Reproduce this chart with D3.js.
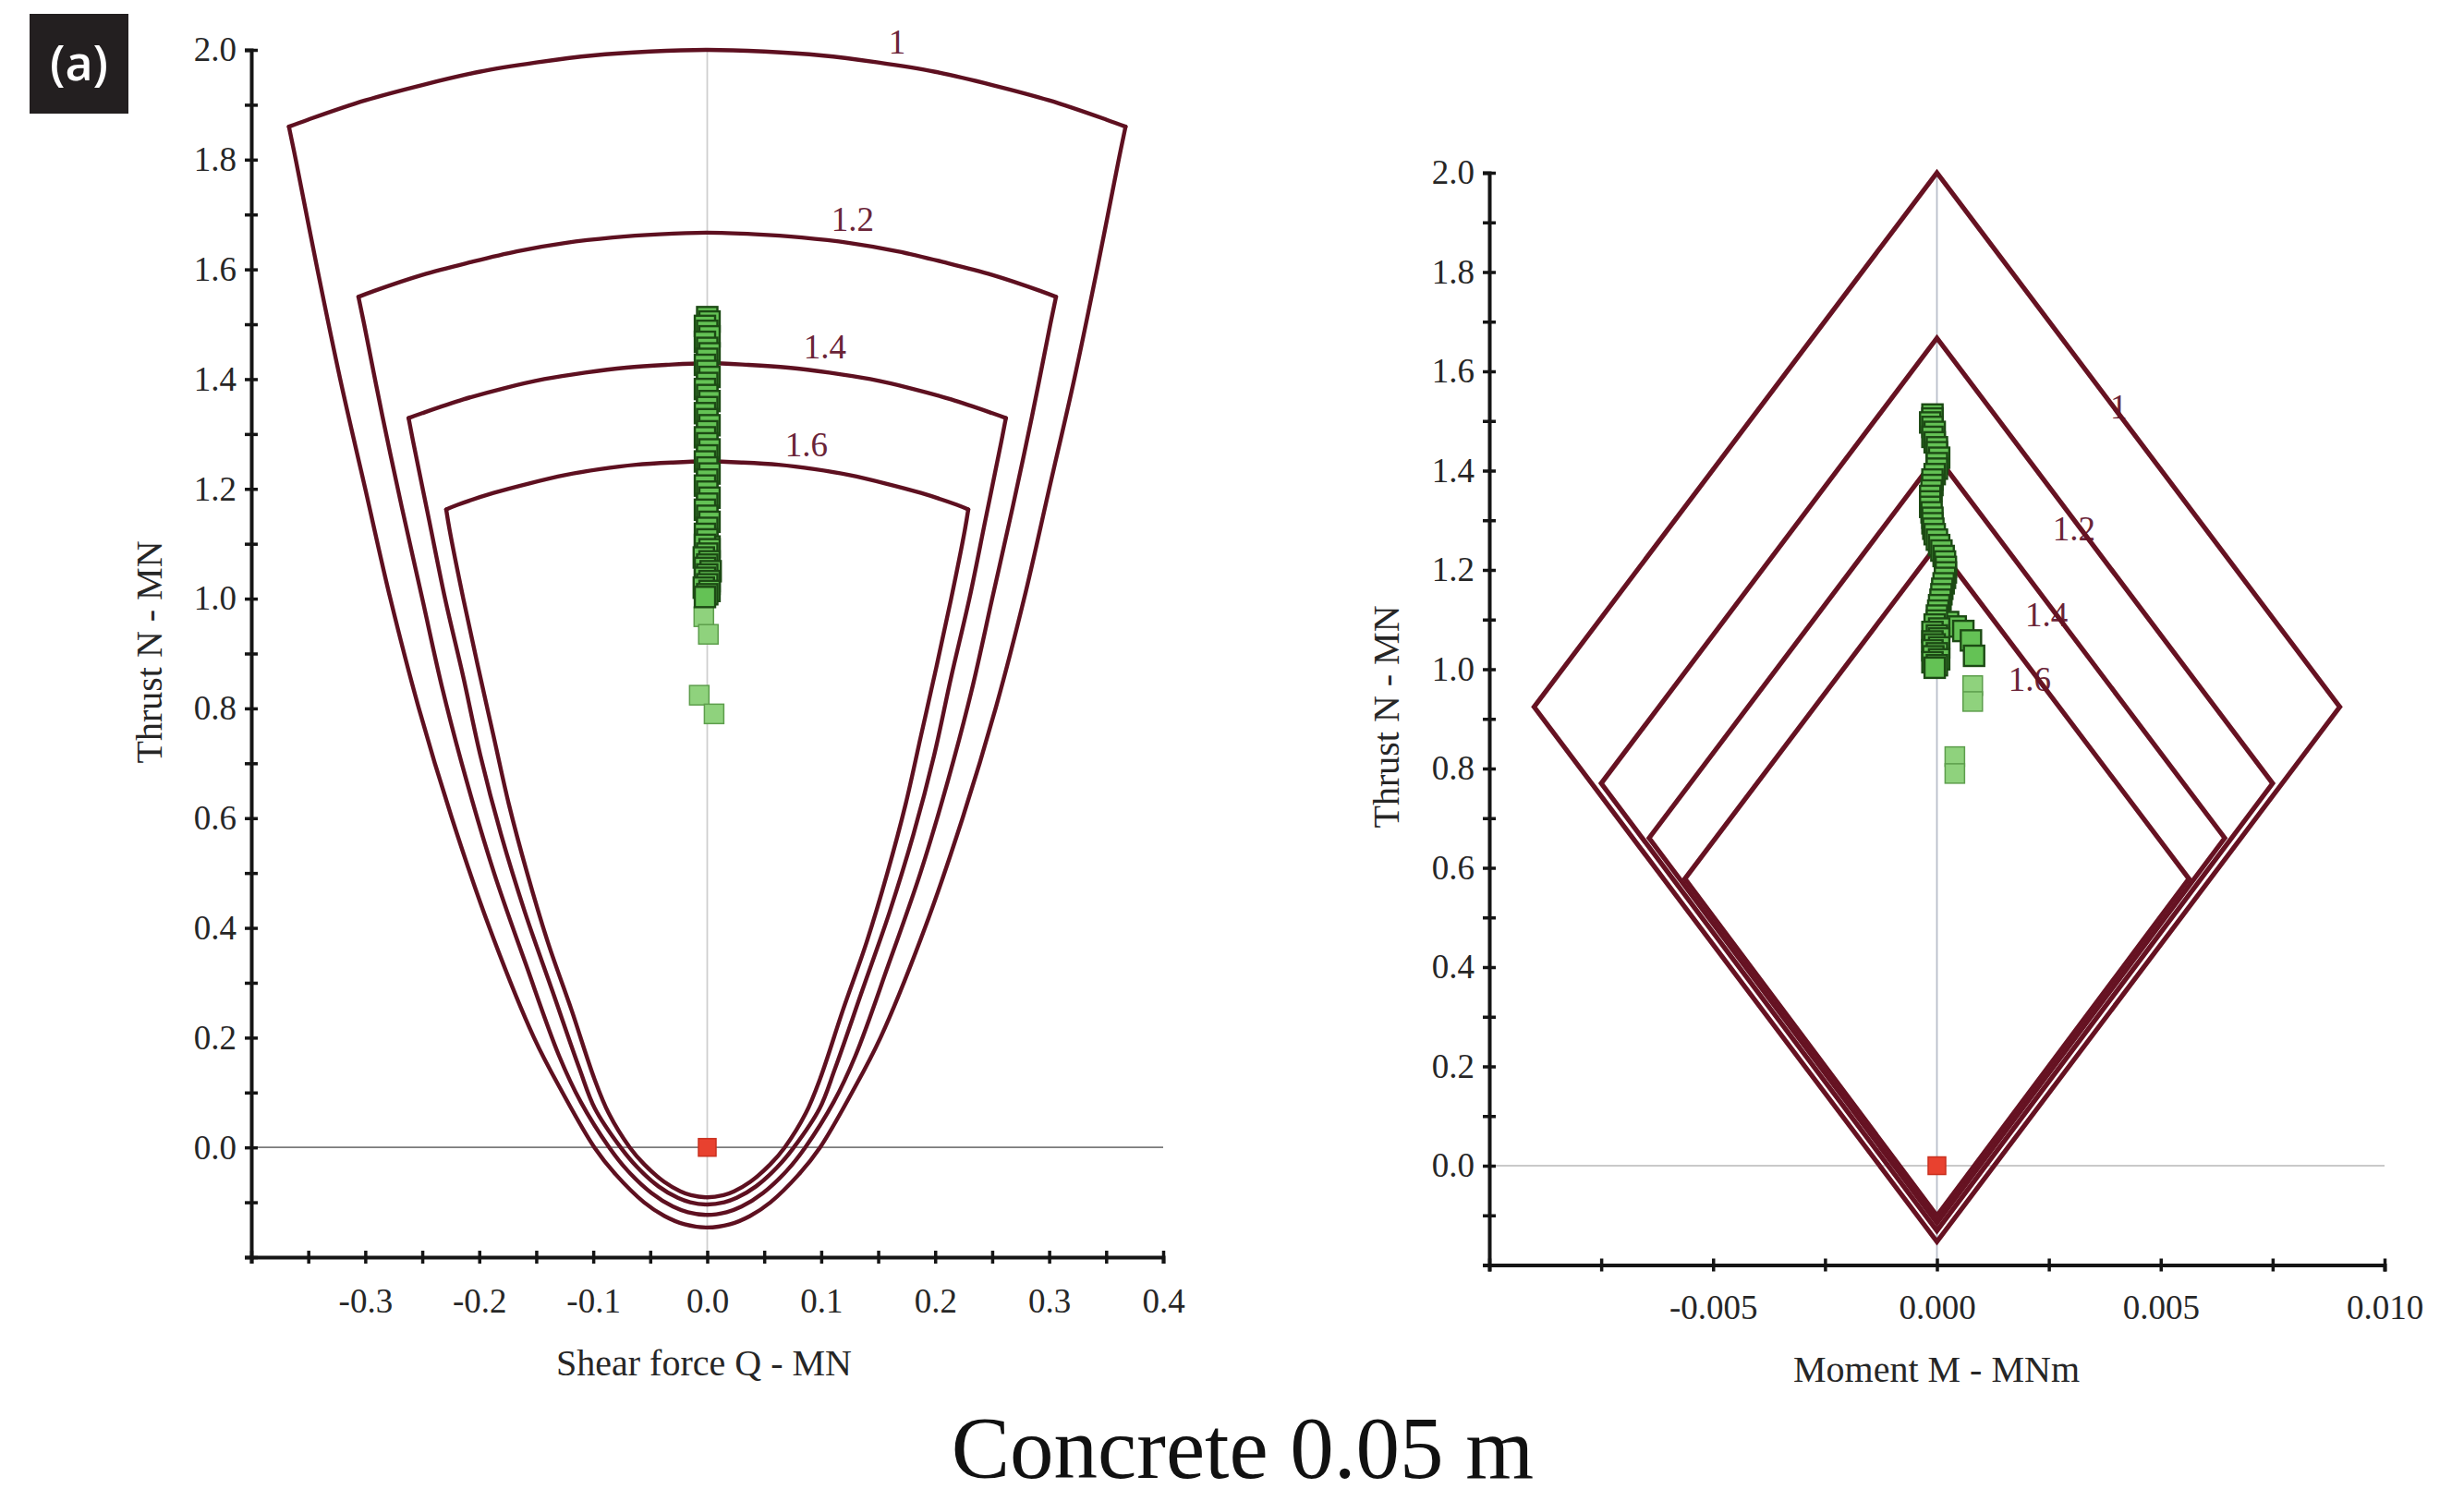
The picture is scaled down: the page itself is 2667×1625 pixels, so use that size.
<!DOCTYPE html>
<html><head><meta charset="utf-8">
<script src="https://cdn.jsdelivr.net/npm/d3@7"></script>
<style>
html,body{margin:0;padding:0;background:#fff;}
svg{display:block;}
text{font-family:"Liberation Serif","Times New Roman",serif;}
</style></head><body>
<svg id="chart" width="2667" height="1625"></svg>
<script>
// ---------------- DATA ----------------
const safetyFactors = ["1", "1.2", "1.4", "1.6"];

// N–Q capacity envelopes, right half (Q >= 0); the left half is the mirror image.
// arc: top (Q=0) → corner ; side: corner → bottom (Q=0)
const arcQN_1   = [[0,2.0],[0.05,1.997],[0.1,1.990],[0.15,1.977],[0.2,1.960],[0.25,1.936],[0.3,1.908],[0.35,1.873],[0.367,1.860]];
const sideQN_1  = [[0.367,1.860],[0.361,1.8],[0.342,1.6],[0.322,1.4],[0.300,1.2],[0.278,1.0],[0.253,0.8],[0.224,0.6],[0.191,0.4],[0.152,0.2],[0.127,0.1],[0.099,0.0],[0.080,-0.05],[0.0555,-0.1],[0.0375,-0.125],[0.020,-0.14],[0,-0.146]];
const arcQN_12  = [[0,1.667],[0.042,1.664],[0.083,1.658],[0.125,1.648],[0.167,1.633],[0.208,1.613],[0.25,1.590],[0.292,1.561],[0.306,1.550]];
const sideQN_12 = [[0.306,1.550],[0.301,1.5],[0.285,1.333],[0.268,1.167],[0.25,1.0],[0.232,0.833],[0.211,0.667],[0.187,0.5],[0.159,0.333],[0.130,0.167],[0.111,0.083],[0.086,0],[0.070,-0.042],[0.049,-0.083],[0.030,-0.108],[0.017,-0.118],[0,-0.123]];
const arcQN_14  = [[0,1.429],[0.036,1.426],[0.071,1.421],[0.107,1.412],[0.143,1.4],[0.179,1.383],[0.214,1.363],[0.25,1.338],[0.262,1.329]];
const sideQN_14 = [[0.262,1.329],[0.258,1.286],[0.244,1.143],[0.23,1.0],[0.214,0.857],[0.199,0.714],[0.181,0.571],[0.16,0.429],[0.136,0.286],[0.112,0.143],[0.0986,0.071],[0.076,0],[0.0615,-0.036],[0.0428,-0.071],[0.0258,-0.092],[0.0149,-0.1],[0,-0.104]];
const arcQN_16  = [[0,1.25],[0.031,1.248],[0.0625,1.244],[0.094,1.236],[0.125,1.225],[0.156,1.21],[0.1875,1.1925],[0.219,1.171],[0.229,1.1625]];
const sideQN_16 = [[0.229,1.1625],[0.226,1.125],[0.214,1.0],[0.201,0.875],[0.1875,0.75],[0.174,0.625],[0.158,0.5],[0.14,0.375],[0.119,0.25],[0.099,0.125],[0.0865,0.0625],[0.068,0],[0.0552,-0.031],[0.038,-0.0625],[0.0236,-0.08],[0.0143,-0.087],[0,-0.091]];
const arcsQN  = [arcQN_1, arcQN_12, arcQN_14, arcQN_16];
const sidesQN = [sideQN_1, sideQN_12, sideQN_14, sideQN_16];

// N–M capacity diamonds
const diamondTopN    = [2.0, 1.667, 1.429, 1.25];
const diamondCornerM = [0.0090, 0.0075, 0.00643, 0.00563];
const diamondCornerN = [0.924, 0.770, 0.660, 0.578];
const diamondBottomN = [-0.153, -0.131, -0.115, -0.101];

// factor-label anchors (data units)
const labelQN = [[0.1665, 2.015], [0.1276, 1.692], [0.1033, 1.460], [0.0871, 1.281]];
const labelMN = [[0.00406, 1.530], [0.00306, 1.284], [0.00245, 1.111], [0.00207, 0.981]];

// lining forces (MN, MNm)
const thrustN = [1.513,1.505,1.497,1.488,1.478,1.468,1.457,1.447,1.437,1.426,1.415,1.404,1.393,1.382,1.371,1.360,1.349,1.338,1.327,1.316,
                 1.305,1.294,1.283,1.272,1.261,1.250,1.239,1.228,1.217,1.206,1.195,1.184,1.173,1.162,1.151,1.140,1.129,1.118,1.108,
                 1.095,1.086,1.077,1.058,1.027,
                 1.098,1.090,1.082,1.075,1.068,1.062,1.056,1.050,1.044,1.038,1.032,1.026,1.020,1.014,1.008,1.003];
const shearQ  = [0.000,0.002,-0.002,0.000,0.002,-0.002,0.000,0.002,0.000,-0.002,0.000,0.002,0.000,-0.002,0.000,0.002,0.000,-0.002,0.000,0.002,
                 0.000,-0.002,0.000,0.002,0.000,-0.002,0.000,0.002,0.000,-0.002,0.000,0.002,0.000,-0.002,0.000,0.002,0.000,-0.002,0.000,
                 0.002,0.000,-0.002,0.000,0.002,
                 -0.002,0.002,0.000,-0.003,0.002,0.000,-0.002,0.003,0.000,-0.002,0.002,0.000,-0.003,0.002,0.000,-0.002];
const momentM = [-0.00010,-0.00010,-0.00015,-0.00010,-0.00005,-0.00010,-0.00005,0.00000,0.00000,0.00005,0.00000,0.00000,-0.00005,-0.00010,-0.00010,-0.00012,-0.00015,-0.00015,-0.00015,-0.00012,
                 -0.00010,-0.00010,-0.00008,-0.00005,0.00000,0.00005,0.00010,0.00015,0.00018,0.00020,0.00020,0.00018,0.00015,0.00012,0.00010,0.00008,0.00005,0.00003,0.00000,
                 0.00025,0.00042,0.00059,0.00076,0.00083,
                 0.00000,-0.00005,0.00005,-0.00010,0.00000,0.00005,-0.00010,-0.00005,0.00005,-0.00010,0.00000,-0.00008,0.00005,-0.00010,0.00000,-0.00005];
// last (lightest) points
const lateN = [0.967, 0.935, 0.824, 0.790];
const lateQ = [-0.003, 0.001, -0.007, 0.006];
const lateM = [0.0008, 0.0008, 0.0004, 0.0004];
// initial state
const originQ = [0], originM = [0], originN = [0];

// ticks
const nTicks  = [-0.2,-0.1,0.0,0.1,0.2,0.3,0.4,0.5,0.6,0.7,0.8,0.9,1.0,1.1,1.2,1.3,1.4,1.5,1.6,1.7,1.8,1.9,2.0];
const nLabels = [0.0,0.2,0.4,0.6,0.8,1.0,1.2,1.4,1.6,1.8,2.0];
const qTicks  = [-0.4,-0.35,-0.3,-0.25,-0.2,-0.15,-0.1,-0.05,0.0,0.05,0.1,0.15,0.2,0.25,0.3,0.35,0.4];
const qLabels = [-0.3,-0.2,-0.1,0.0,0.1,0.2,0.3,0.4];
const mTicks  = [-0.01,-0.0075,-0.005,-0.0025,0.0,0.0025,0.005,0.0075,0.01];
const mLabels = [-0.005,0.0,0.005,0.01];

const texts = {
  panel: "(a)",
  yTitle: "Thrust N - MN",
  xTitleL: "Shear force Q - MN",
  xTitleR: "Moment M - MNm",
  title: "Concrete 0.05 m"
};

// ---------------- DRAW ----------------
const svg = d3.select("#chart");
svg.append("rect").attr("width", 2667).attr("height", 1625).attr("fill", "#fff");

const xL = d3.scaleLinear().domain([-0.4, 0.4]).range([272, 1259]);
const yL = d3.scaleLinear().domain([-0.2, 2.0]).range([1361, 54]);
const xR = d3.scaleLinear().domain([-0.01, 0.01]).range([1612, 2581]);
const yR = d3.scaleLinear().domain([-0.2, 2.0]).range([1369.5, 187]);

const LINE = "#5e1020";
const LABEL = "#6a2438";
const AXIS = "#151515";
const SW = 4.4;
const has = (arr, d) => arr.some(v => Math.abs(v - d) < 1e-9);

function styleAxis(g) {
  g.attr("font-size", null).attr("font-family", null);
  g.selectAll(".domain").attr("stroke", AXIS).attr("stroke-width", 4);
  g.selectAll(".tick line").attr("stroke", AXIS).attr("stroke-width", 3.5);
  g.selectAll(".tick text").attr("fill", "#262626").style("font-size", "37px")
    .style("font-family", '"Liberation Serif", serif');
}
function yAxis(xs, ys, ticks, labels, fmt) {
  const x0 = xs.range()[0];
  const gA = svg.append("g").attr("transform", `translate(${x0},0)`);
  gA.call(d3.axisLeft(ys).tickValues(ticks).tickSize(7).tickPadding(9)
           .tickFormat(d => has(labels, d) ? fmt(d) : ""));
  const gB = svg.append("g").attr("transform", `translate(${x0},0)`);
  gB.call(d3.axisRight(ys).tickValues(ticks).tickSize(7).tickFormat(""));
  gB.select(".domain").remove();
  styleAxis(gA); styleAxis(gB);
}
function xAxis(xs, ys, ticks, labels, fmt, pad) {
  const y0 = ys.range()[0];
  const gA = svg.append("g").attr("transform", `translate(0,${y0})`);
  gA.call(d3.axisBottom(xs).tickValues(ticks).tickSize(7).tickPadding(pad)
           .tickFormat(d => has(labels, d) ? fmt(d) : ""));
  const gB = svg.append("g").attr("transform", `translate(0,${y0})`);
  gB.call(d3.axisTop(xs).tickValues(ticks).tickSize(7).tickFormat(""));
  gB.select(".domain").remove();
  styleAxis(gA); styleAxis(gB);
}

// reference lines
function refLines(xs, ys, hColor, vColor) {
  svg.append("line").attr("x1", xs.range()[0]).attr("x2", xs.range()[1])
    .attr("y1", ys(0)).attr("y2", ys(0)).attr("stroke", hColor).attr("stroke-width", 1.8);
  svg.append("line").attr("x1", xs(0)).attr("x2", xs(0))
    .attr("y1", ys(2.0)).attr("y2", ys.range()[0]).attr("stroke", vColor).attr("stroke-width", 1.8);
}
refLines(xL, yL, "#7a7a7a", "#cfcfcf");
refLines(xR, yR, "#c9c9c9", "#b9bfca");

// factor labels (drawn under the envelopes)
const lab = svg.append("g").attr("fill", LABEL).style("font-size", "37px");
safetyFactors.forEach((s, i) => {
  lab.append("text").attr("x", xL(labelQN[i][0])).attr("y", yL(labelQN[i][1])).attr("dy", "0.35em")
     .attr("text-anchor", "middle").text(s);
  lab.append("text").attr("x", xR(labelMN[i][0])).attr("y", yR(labelMN[i][1])).attr("dy", "0.35em")
     .attr("text-anchor", "middle").text(s);
});

// N–Q envelopes
const mirror = pts => pts.map(d => [-d[0], d[1]]);
const arcLine  = d3.line().x(d => xL(d[0])).y(d => yL(d[1])).curve(d3.curveCatmullRom);
const sideLine = d3.line().x(d => xL(d[0])).y(d => yL(d[1])).curve(d3.curveCatmullRom.alpha(0.5));
arcsQN.forEach((arc, i) => {
  const fullArc = mirror(arc).reverse().concat(arc.slice(1));
  const side = sidesQN[i];
  const fullSide = side.concat(mirror(side).reverse().slice(1));
  const g = svg.append("g").attr("fill", "none").attr("stroke", LINE).attr("stroke-width", SW)
               .attr("stroke-linecap", "round").attr("stroke-linejoin", "round");
  g.append("path").attr("d", arcLine(fullArc));
  g.append("path").attr("d", sideLine(fullSide));
});

// N–M diamonds
const lineR = d3.line().x(d => xR(d[0])).y(d => yR(d[1]));
safetyFactors.forEach((s, i) => {
  const pts = [[0, diamondTopN[i]], [diamondCornerM[i], diamondCornerN[i]], [0, diamondBottomN[i]],
               [-diamondCornerM[i], diamondCornerN[i]]];
  svg.append("path").attr("d", lineR(pts) + "Z").attr("fill", "none")
     .attr("stroke", "#661222").attr("stroke-width", 5.2).attr("stroke-linejoin", "miter");
});

// axes
yAxis(xL, yL, nTicks, nLabels, d => d.toFixed(1));
xAxis(xL, yL, qTicks, qLabels, d => d.toFixed(1), 27);
yAxis(xR, yR, nTicks, nLabels, d => d.toFixed(1));
xAxis(xR, yR, mTicks, mLabels, d => d.toFixed(3), 25);

// squares
const SQ = 22;
function squares(xs, ys, xv, nv, fill, stroke, sw, size) {
  svg.append("g").selectAll("rect").data(nv).join("rect")
    .attr("x", (d, i) => xs(xv[i]) - size / 2).attr("y", d => ys(d) - size / 2)
    .attr("width", size).attr("height", size)
    .attr("fill", fill).attr("stroke", stroke).attr("stroke-width", sw);
}
squares(xL, yL, lateQ, lateN, "#8fd27d", "#5d9e4c", 1.5, 21);
squares(xR, yR, lateM, lateN, "#8fd27d", "#5d9e4c", 1.5, 21);
squares(xL, yL, shearQ, thrustN, "#64c255", "#1c4a14", 2.4, SQ);
squares(xR, yR, momentM, thrustN, "#64c255", "#1c4a14", 2.4, SQ);
squares(xL, yL, originQ, originN, "#e8412f", "#c9301f", 1.5, 19);
squares(xR, yR, originM, originN, "#e8412f", "#c9301f", 1.5, 19);

// axis titles
const tt = svg.append("g").attr("fill", "#262626").style("font-size", "40px");
tt.append("text").attr("transform", `translate(175,706) rotate(-90)`).attr("text-anchor", "middle").text(texts.yTitle);
tt.append("text").attr("transform", `translate(1514,776) rotate(-90)`).attr("text-anchor", "middle").text(texts.yTitle);
tt.append("text").attr("x", 762).attr("y", 1489).attr("text-anchor", "middle").text(texts.xTitleL);
tt.append("text").attr("x", 2096).attr("y", 1496).attr("text-anchor", "middle").text(texts.xTitleR);

// main title
svg.append("text").attr("x", 1345).attr("y", 1600).attr("text-anchor", "middle")
   .attr("fill", "#111").style("font-size", "95px").text(texts.title);

// panel tag
svg.append("rect").attr("x", 32).attr("y", 15).attr("width", 107).attr("height", 108).attr("fill", "#231f20");
svg.append("text").attr("x", 85.5).attr("y", 69).attr("dy", "0.35em").attr("text-anchor", "middle")
   .attr("fill", "#fff").style("font-family", '"Open Sans", "DejaVu Sans", sans-serif')
   .style("font-weight", 600).style("font-size", "52px").text(texts.panel);
</script>
</body></html>
